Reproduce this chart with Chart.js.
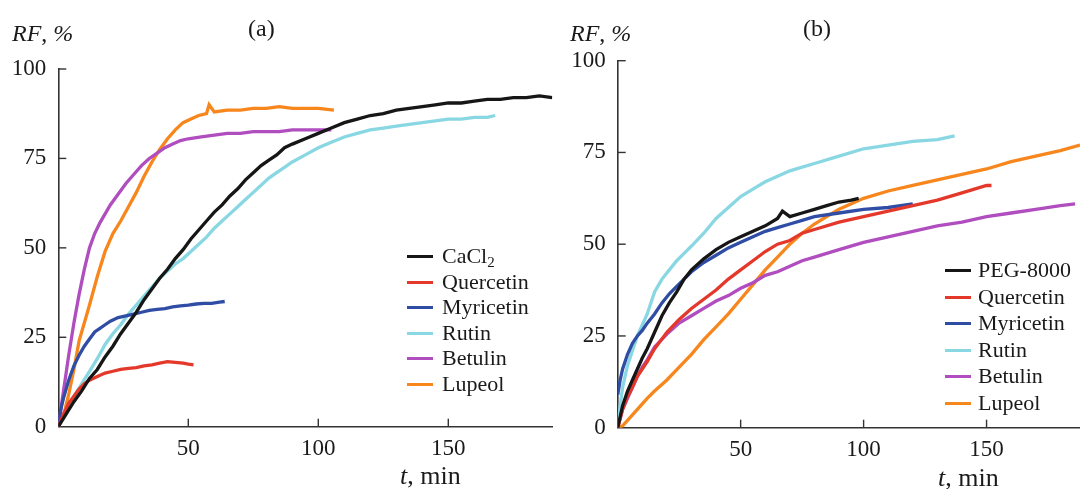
<!DOCTYPE html>
<html>
<head>
<meta charset="utf-8">
<script src="https://cdn.jsdelivr.net/npm/chart.js@4.4.1/dist/chart.umd.min.js"></script>
<style>
  html, body { margin:0; padding:0; background:#fff; }
  body { width:1080px; height:489px; position:relative; overflow:hidden; font-family:"Liberation Serif","Times New Roman",serif; color:#1a1a1a; }
  canvas { position:absolute; top:0; }
  .txt { position:absolute; white-space:nowrap; font-size:24px; line-height:1; }
  .ax { font-size:26px; }
  .legend { position:absolute; font-size:22px; }
  .legend .row { position:absolute; left:0; white-space:nowrap; height:26px; line-height:26px; }
  .legend .sw { position:absolute; left:0; top:12px; width:26px; height:3px; }
  .legend .lb { position:absolute; top:0; }
  sub { font-size:15px; vertical-align:-4px; line-height:0; }
</style>
</head>
<body>
<canvas id="ca" width="560" height="489" style="left:0"></canvas>
<canvas id="cb" width="520" height="489" style="left:560px"></canvas>

<div class="txt" style="left:12px;top:21px;"><i>RF</i>, <i>%</i></div>
<div class="txt" style="left:248px;top:16px;">(a)</div>
<div class="txt ax" style="left:400px;top:463px;"><i>t</i>, min</div>
<div class="txt" style="left:570px;top:21px;"><i>RF</i>, <i>%</i></div>
<div class="txt" style="left:803px;top:16px;">(b)</div>
<div class="txt ax" style="left:938px;top:465px;"><i>t</i>, min</div>

<div id="lega" class="legend" style="left:407px;top:243px;"></div>
<div id="legb" class="legend" style="left:945px;top:257px;"></div>

<script>
// ---------- Panel (a) data ----------
const aLabels = ['CaCl₂', 'Quercetin', 'Myricetin', 'Rutin', 'Betulin', 'Lupeol'];

const aCaCl2_t = [0,3,6,9,12,15,18,21,24,27,30,33,36,39,42,45,48,51,54,57,60,63,66,69,72,75,78,81,84,87,90,95,100,105,110,115,120,125,130,135,140,145,150,155,160,165,170,175,180,185,190];
const aCaCl2_v = [0,3.5,7,10,13.5,16,19.5,22.5,26,29,32,35.5,38.5,41.5,44,47,49.5,52.5,55,57.5,60,62,64.5,66.5,69,71,73,74.5,76,78,79,80.5,82,83.5,85,86,87,87.5,88.5,89,89.5,90,90.5,90.5,91,91.5,91.5,92,92,92.5,92];

const aQuercetin_t = [0,2,4,6,8,10,12,15,18,21,24,27,30,33,36,39,42,45,48,50,52];
const aQuercetin_v = [0,3.5,6.5,8.5,10.5,12,13,14,15,15.5,16,16.3,16.5,17,17.3,17.8,18.2,18,17.8,17.5,17.3];

const aMyricetin_t = [0,1,2,3,4,5,6,8,10,12,14,16,18,20,23,26,29,32,35,38,41,44,47,50,53,56,59,62,64];
const aMyricetin_v = [0,5,8,10.5,13,15,17,20,22.5,24.5,26.5,27.5,28.5,29.5,30.5,31,31.5,32,32.5,32.8,33,33.5,33.8,34,34.3,34.5,34.5,34.8,35];

const aRutin_t = [0,3,6,9,12,15,18,21,24,27,30,33,36,39,42,45,48,51,54,57,60,63,66,69,72,75,78,81,84,87,90,95,100,105,110,115,120,125,130,135,140,145,150,155,160,165,168];
const aRutin_v = [0,5,8.5,12,15.5,19,23,26,28.5,31.5,34,36.5,39,41.5,43.5,45.5,47,49,51,53,55.5,57.5,59.5,61.5,63.5,65.5,67.5,69.5,71,72.5,74,76,78,79.5,81,82,83,83.5,84,84.5,85,85.5,86,86,86.5,86.5,87];

const aBetulin_t = [0,2,4,6,8,10,12,14,16,18,20,23,26,29,32,35,38,41,44,47,50,55,60,65,70,75,80,85,90,95,100,105];
const aBetulin_v = [0,10,20,29,37,44,50,54,57,59.5,62,65,68,70.5,73,75,76.5,78,79,80,80.5,81,81.5,82,82,82.5,82.5,82.5,83,83,83,83];

const aLupeol_t = [0,2,4,6,8,10,12,15,18,21,24,27,30,33,36,39,42,45,48,51,54,57,58,60,65,70,75,80,85,90,95,100,106];
const aLupeol_v = [0,3,9,16,24,29,34,42,49,54,57.5,61.5,65.5,70,74,77.5,80.5,83,85,86,87,87.5,90,88,88.5,88.5,89,89,89.5,89,89,89,88.5];

// ---------- Panel (b) data ----------
const bLabels = ['PEG-8000', 'Quercetin', 'Myricetin', 'Rutin', 'Betulin', 'Lupeol'];

const bPEG_t = [0,2,4,6,8,10,12,15,18,21,24,27,30,35,40,45,50,55,60,65,67,70,75,80,85,90,95,98];
const bPEG_v = [0,6,10,13,16,19,21.5,26,30.5,34,37,40.5,43,46,48.5,50.5,52,53.5,55,57,59,57.5,58.5,59.5,60.5,61.5,62,62.5];

const bQuercetin_t = [0,2,4,6,8,10,12,15,20,25,30,35,40,45,50,55,60,65,70,75,80,90,100,110,120,130,140,150,152];
const bQuercetin_v = [0,5,8.5,11,14,16,18,21.5,26,29.5,32.5,35,37.5,40.5,43,45.5,48,50,51,53,54,56,57.5,59,60.5,62,64,66,66];

const bMyricetin_t = [0,1,2,4,6,8,10,12,15,18,21,24,27,30,35,40,45,50,55,60,65,70,75,80,90,100,110,120];
const bMyricetin_v = [9,13,16,20,23,25,26.5,28.5,31,34,36.5,38.5,40.5,42.5,45,47,49,50.5,52,53.5,54.5,55.5,56.5,57.5,58.5,59.5,60,61];

const bRutin_t = [0,1,2,4,6,8,10,12,15,18,21,24,27,30,35,40,45,50,55,60,65,70,75,80,90,100,110,120,130,137];
const bRutin_v = [0,6,11,17,21,25,28,31,37,40.5,43,45.5,47.5,49.5,53,57,60,63,65,67,68.5,70,71,72,74,76,77,78,78.5,79.5];

const bBetulin_t = [0,2,4,6,8,10,12,15,20,25,30,35,40,45,50,55,60,65,70,75,80,90,100,110,120,130,140,150,160,170,180,186];
const bBetulin_v = [0,5,8,11,14,16.5,18.5,22,25.5,28.5,30.5,32.5,34.5,36,38,39.5,41.5,42.5,44,45.5,46.5,48.5,50.5,52,53.5,55,56,57.5,58.5,59.5,60.5,61];

const bLupeol_t = [0,2,4,6,8,10,12,15,20,25,30,35,40,45,50,55,60,65,70,75,80,85,90,100,110,120,130,140,150,160,170,180,188];
const bLupeol_v = [0,0.5,2,3.5,5,6.5,8,10,13,16.5,20,24,27.5,31,35,39,43,46.5,50,53,55.5,57.5,59.5,62.5,64.5,66,67.5,69,70.5,72.5,74,75.5,77];

// ---------- axis ticks ----------
const yTicks = [0, 25, 50, 75, 100];
const xTicks = [50, 100, 150];

const colors = ['#161616', '#e3382a', '#2f4da5', '#88d7e3', '#b04dbf', '#f7861d'];

function pts(t, v) { return t.map((x, i) => ({ x: x, y: v[i] })); }

const inTicks = {
  id: 'inTicks',
  afterDraw(chart) {
    const { ctx, chartArea: a, scales } = chart;
    ctx.save();
    ctx.strokeStyle = '#333';
    ctx.lineWidth = 1.4;
    scales.x.ticks.forEach(t => {
      if (t.value === 0) return;
      const px = scales.x.getPixelForValue(t.value);
      ctx.beginPath(); ctx.moveTo(px, a.bottom); ctx.lineTo(px, a.bottom - 8); ctx.stroke();
    });
    scales.y.ticks.forEach(t => {
      if (t.value === 0) return;
      const py = scales.y.getPixelForValue(t.value);
      ctx.beginPath(); ctx.moveTo(a.left, py); ctx.lineTo(a.left + 8, py); ctx.stroke();
    });
    ctx.restore();
  }
};

function makeChart(id, labels, series, cfg) {
  return new Chart(document.getElementById(id), {
    type: 'line',
    data: {
      datasets: series.map((s, i) => ({
        label: labels[i],
        data: pts(s[0], s[1]),
        borderColor: colors[i],
        backgroundColor: colors[i],
        borderWidth: 3.3,
        pointRadius: 0,
        tension: 0,
        fill: false
      }))
    },
    options: {
      responsive: false,
      animation: false,
      devicePixelRatio: 1,
      layout: { padding: { left: 0, right: cfg.padRight, top: cfg.padTop, bottom: 0 } },
      plugins: { legend: { display: false }, tooltip: { enabled: false } },
      scales: {
        x: {
          type: 'linear', min: 0, max: cfg.xMax,
          afterBuildTicks(s) { s.ticks = xTicks.map(v => ({ value: v })); },
          afterFit(s) { s.height = cfg.xH; },
          grid: { display: true, drawOnChartArea: false, drawTicks: false },
          border: { display: true, color: '#333', width: 1.6 },
          ticks: { padding: 8, color: '#1a1a1a', maxRotation: 0, font: { family: 'Liberation Serif', size: 23 } }
        },
        y: {
          type: 'linear', min: 0, max: 100,
          afterBuildTicks(s) { s.ticks = yTicks.map(v => ({ value: v })); },
          afterFit(s) { s.width = cfg.yW; },
          grid: { display: true, drawOnChartArea: false, drawTicks: false },
          border: { display: true, color: '#333', width: 1.6 },
          ticks: { padding: 12, color: '#1a1a1a', font: { family: 'Liberation Serif', size: 23 } }
        }
      }
    },
    plugins: [inTicks]
  });
}

const chartA = makeChart('ca', aLabels, [
  [aCaCl2_t, aCaCl2_v], [aQuercetin_t, aQuercetin_v], [aMyricetin_t, aMyricetin_v],
  [aRutin_t, aRutin_v], [aBetulin_t, aBetulin_v], [aLupeol_t, aLupeol_v]
], { xMax: 190, padRight: 7.7, padTop: 69, xH: 62.3, yW: 58.3 });

const chartB = makeChart('cb', bLabels, [
  [bPEG_t, bPEG_v], [bQuercetin_t, bQuercetin_v], [bMyricetin_t, bMyricetin_v],
  [bRutin_t, bRutin_v], [bBetulin_t, bBetulin_v], [bLupeol_t, bLupeol_v]
], { xMax: 188, padRight: 0, padTop: 60.7, xH: 61.3, yW: 57.7 });

function buildLegend(chart, elId, textLeft, step) {
  const el = document.getElementById(elId);
  chart.data.datasets.forEach((ds, i) => {
    const row = document.createElement('div');
    row.className = 'row';
    row.style.top = (i * step) + 'px';
    const sw = document.createElement('div');
    sw.className = 'sw';
    sw.style.background = ds.borderColor;
    const lb = document.createElement('div');
    lb.className = 'lb';
    lb.style.left = textLeft + 'px';
    lb.innerHTML = ds.label.replace('₂', '<sub>2</sub>');
    row.appendChild(sw); row.appendChild(lb);
    el.appendChild(row);
  });
}
buildLegend(chartA, 'lega', 35, 25.6);
buildLegend(chartB, 'legb', 33, 26.5);
</script>
</body>
</html>
